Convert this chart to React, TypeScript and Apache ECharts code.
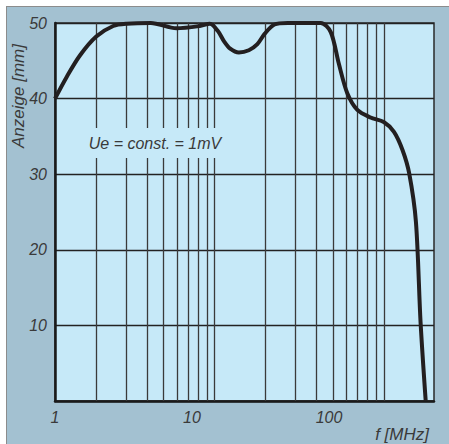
import React, { useEffect, useRef } from "react";
import * as echarts from "echarts";

// Frequency response curve (f in MHz, Anzeige in mm)
const freqMHz = [1, 1.22, 1.52, 2.0, 2.66, 3.34, 5, 7.7, 11.4, 13.5, 15.5, 17.1, 19, 22, 26, 30, 34, 40, 50, 87, 103, 118, 136, 161, 201, 251, 298, 344, 385, 431, 466, 508];
const anzeige = [40, 42.9, 45.7, 48.2, 49.6, 49.9, 50, 49.3, 49.6, 49.9, 48.9, 47.6, 46.6, 46.1, 46.4, 47.2, 48.6, 49.8, 50, 50, 48.8, 44.6, 40.7, 38.5, 37.5, 36.9, 35.6, 33.2, 30.1, 23.7, 10.4, 0];

// Printed grid (drawn on its own log scale in the original)
const gridFreqs = [2, 3, 4, 5, 6, 7, 8, 9, 10, 20, 30, 40, 50, 60, 70, 80, 90, 100];
const gridMin = 1.14;
const gridMax = 198;

// Label scale
const xMin = 1;
const xMax = 584;
const xTickLabels = [1, 10, 100];
const yMin = 0;
const yMax = 50;
const yInterval = 10;

const yTitle = "Anzeige [mm]";
const xTitle = "f [MHz]";
const note = "Ue = const. = 1mV";

const FONT = "'Liberation Sans', Arial, sans-serif";
const TXT = "#3a3a3a";

export default function App() {
  const ref = useRef<HTMLDivElement>(null);
  useEffect(() => {
    if (!ref.current) return;
    const chart = echarts.init(ref.current, undefined, { renderer: "svg" });
    const curve = freqMHz.map((f, i) => [f, anzeige[i]]);
    chart.setOption({
      animation: false,
      grid: {
        left: 55,
        top: 23,
        right: 15,
        bottom: 43,
        show: true,
        backgroundColor: "#c6e9f8",
        borderColor: "#2a2a2a",
        borderWidth: 1.5,
      },
      xAxis: [
        {
          type: "log",
          logBase: 10,
          min: xMin,
          max: xMax,
          axisLine: { show: true, lineStyle: { color: "#1a1a1a", width: 2.5 } },
          axisTick: { show: false },
          splitLine: { show: false },
          axisLabel: {
            margin: 8,
            fontFamily: FONT,
            fontStyle: "italic",
            fontSize: 16,
            color: TXT,
            formatter: (v: number) => {
              const hit = xTickLabels.find((t) => Math.abs(Math.log10(v) - Math.log10(t)) < 1e-6);
              return hit !== undefined ? String(hit) : "";
            },
          },
        },
        {
          type: "log",
          logBase: 10,
          min: gridMin,
          max: gridMax,
          show: false,
        },
      ],
      yAxis: {
        type: "value",
        min: yMin,
        max: yMax,
        interval: yInterval,
        axisLine: { show: true, lineStyle: { color: "#1a1a1a", width: 2.5 } },
        axisTick: { show: false },
        splitLine: { show: true, lineStyle: { color: "#222", width: 1.3 } },
        axisLabel: {
          margin: 8,
          fontFamily: FONT,
          fontStyle: "italic",
          fontSize: 16,
          color: TXT,
          formatter: (v: number) => (v === 0 ? "" : String(v)),
        },
      },
      graphic: [
        {
          type: "text",
          x: 18,
          y: 96,
          rotation: Math.PI / 2,
          z: 100,
          style: {
            text: yTitle,
            fontFamily: FONT,
            fontStyle: "italic",
            fontSize: 17,
            fill: TXT,
            align: "center",
            verticalAlign: "middle",
          },
        },
        {
          type: "text",
          x: 429,
          y: 434,
          z: 100,
          style: {
            text: xTitle,
            fontFamily: FONT,
            fontStyle: "italic",
            fontSize: 17,
            fill: TXT,
            align: "right",
            verticalAlign: "middle",
          },
        },
        {
          type: "text",
          x: 155,
          y: 143,
          z: 100,
          style: {
            text: note,
            fontFamily: FONT,
            fontStyle: "italic",
            fontSize: 16,
            fill: TXT,
            align: "center",
            verticalAlign: "middle",
            backgroundColor: "#c6e9f8",
            padding: [7, 3],
          },
        },
      ],
      series: [
        {
          type: "line",
          xAxisIndex: 1,
          data: [[10, 0]],
          symbol: "none",
          lineStyle: { opacity: 0 },
          silent: true,
          z: 1,
          markLine: {
            silent: true,
            symbol: ["none", "none"],
            label: { show: false },
            lineStyle: { color: "#3a3a3a", width: 1.3, type: "solid" },
            data: gridFreqs.map((f) => ({ xAxis: f })),
          },
        },
        {
          type: "line",
          xAxisIndex: 0,
          data: curve,
          symbol: "none",
          smooth: 0.3,
          z: 5,
          lineStyle: { color: "#231f20", width: 4 },
        },
      ],
    });
    return () => chart.dispose();
  }, []);
  return (
    <div style={{ position: "fixed", left: 0, top: 0, width: 449, height: 444, background: "#ffffff" }}>
      <div
        style={{
          position: "absolute",
          left: 6,
          top: 6,
          width: 443,
          height: 438,
          background: "#a3c1d1",
          borderLeft: "1px solid #8c8c8c",
          borderTop: "1px solid #8c8c8c",
          boxSizing: "border-box",
        }}
      />
      <div ref={ref} style={{ position: "absolute", left: 0, top: 0, width: 449, height: 444 }} />
    </div>
  );
}
